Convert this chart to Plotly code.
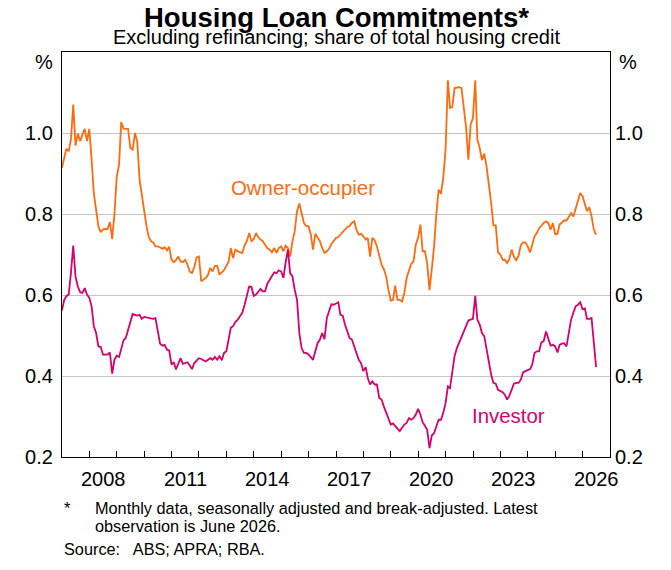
import pandas as pd
import plotly.graph_objects as go

# monthly observations, Dec 2006 .. Jun 2026 (share of total housing credit, %)
months = pd.period_range(end="2026-06", periods=235, freq="M").to_timestamp(how="end").normalize()

owner_occupier = [
    0.914, 0.938, 0.961, 0.955, 0.984, 1.07, 0.969, 0.998, 0.98, 0.996,
    1.01, 0.98, 1.01, 0.934, 0.852, 0.81, 0.77, 0.755, 0.762, 0.763,
    0.763, 0.78, 0.738, 0.80, 0.893, 0.922, 1.027, 1.011, 1.01, 1.01,
    0.963, 0.959, 1.0, 0.979, 0.885, 0.844, 0.81, 0.77, 0.745, 0.733,
    0.73, 0.72, 0.72, 0.718, 0.714, 0.718, 0.71, 0.719, 0.687, 0.681,
    0.686, 0.695, 0.683, 0.681, 0.687, 0.675, 0.658, 0.654, 0.669, 0.693,
    0.695, 0.634, 0.638, 0.642, 0.65, 0.667, 0.658, 0.672, 0.672, 0.65,
    0.656, 0.661, 0.672, 0.683, 0.716, 0.691, 0.712, 0.708, 0.705, 0.704,
    0.722, 0.733, 0.753, 0.733, 0.738, 0.753, 0.743, 0.737, 0.733, 0.724,
    0.716, 0.712, 0.705, 0.716, 0.704, 0.716, 0.72, 0.708, 0.722, 0.716,
    0.695, 0.733, 0.757, 0.807, 0.826, 0.802, 0.778, 0.77, 0.77, 0.749,
    0.712, 0.751, 0.741, 0.733, 0.716, 0.704, 0.708, 0.714, 0.726, 0.733,
    0.741, 0.743, 0.749, 0.753, 0.76, 0.768, 0.77, 0.778, 0.782, 0.761,
    0.749, 0.751, 0.745, 0.737, 0.741, 0.695, 0.741, 0.735, 0.72, 0.70,
    0.675, 0.664, 0.646, 0.613, 0.586, 0.588, 0.623, 0.588, 0.588, 0.584,
    0.605, 0.642, 0.658, 0.677, 0.683, 0.724, 0.741, 0.774, 0.708, 0.708,
    0.679, 0.612, 0.663, 0.72, 0.802, 0.86, 0.85, 0.889, 0.959, 1.13,
    1.062, 1.064, 1.111, 1.113, 1.113, 1.111, 1.058, 1.015, 0.934, 1.021,
    1.037, 1.13, 0.984, 0.963, 0.933, 0.949, 0.918, 0.877, 0.827, 0.772,
    0.772, 0.705, 0.70, 0.687, 0.687, 0.679, 0.689, 0.712, 0.694, 0.686,
    0.697, 0.723, 0.73, 0.73, 0.72, 0.705, 0.724, 0.745, 0.753, 0.765,
    0.771, 0.778, 0.782, 0.778, 0.761, 0.778, 0.75, 0.751, 0.774, 0.779,
    0.784, 0.784, 0.794, 0.802, 0.794, 0.812, 0.831, 0.852, 0.844, 0.827,
    0.807, 0.817, 0.794, 0.761, 0.749,
]

investor = [
    0.562, 0.588, 0.597, 0.601, 0.654, 0.722, 0.646, 0.621, 0.607, 0.605,
    0.617, 0.601, 0.593, 0.572, 0.523, 0.506, 0.473, 0.472, 0.453, 0.453,
    0.453, 0.458, 0.406, 0.44, 0.45, 0.447, 0.465, 0.488, 0.494, 0.514,
    0.529, 0.553, 0.551, 0.549, 0.551, 0.541, 0.546, 0.545, 0.543, 0.542,
    0.541, 0.543, 0.514, 0.48, 0.475, 0.477, 0.465, 0.463, 0.428, 0.434,
    0.416, 0.432, 0.444, 0.43, 0.432, 0.434, 0.426, 0.417, 0.432, 0.438,
    0.444, 0.442, 0.44, 0.436, 0.44, 0.444, 0.44, 0.447, 0.44, 0.449,
    0.439, 0.457, 0.461, 0.49, 0.519, 0.523, 0.533, 0.539, 0.546, 0.556,
    0.576, 0.601, 0.621, 0.62, 0.598, 0.601, 0.609, 0.615, 0.609, 0.609,
    0.628, 0.638, 0.65, 0.656, 0.654, 0.661, 0.658, 0.642, 0.679, 0.712,
    0.654, 0.646, 0.613, 0.588, 0.506, 0.469, 0.457, 0.457, 0.453, 0.447,
    0.44, 0.461, 0.481, 0.49, 0.506, 0.491, 0.543, 0.56, 0.577, 0.576,
    0.58, 0.582, 0.551, 0.549, 0.527, 0.51, 0.494, 0.49, 0.473, 0.457,
    0.44, 0.432, 0.412, 0.422, 0.395, 0.379, 0.387, 0.379, 0.379, 0.346,
    0.342, 0.325, 0.309, 0.292, 0.28, 0.283, 0.276, 0.27, 0.264, 0.272,
    0.28, 0.284, 0.296, 0.292, 0.296, 0.305, 0.319, 0.305, 0.286, 0.277,
    0.267, 0.222, 0.253, 0.259, 0.276, 0.292, 0.292, 0.309, 0.333, 0.374,
    0.37, 0.412, 0.449, 0.469, 0.483, 0.498, 0.51, 0.525, 0.537, 0.539,
    0.541, 0.598, 0.539, 0.527, 0.506, 0.498, 0.465, 0.432, 0.403, 0.383,
    0.381, 0.366, 0.362, 0.36, 0.354, 0.342, 0.351, 0.366, 0.381, 0.383,
    0.383, 0.391, 0.409, 0.412, 0.414, 0.417, 0.428, 0.457, 0.461, 0.461,
    0.483, 0.486, 0.51, 0.49, 0.475, 0.477, 0.473, 0.458, 0.477, 0.48,
    0.481, 0.473, 0.506, 0.539, 0.556, 0.572, 0.576, 0.582, 0.565, 0.567,
    0.541, 0.541, 0.543, 0.481, 0.422,
]

y_ticks = [0.2, 0.4, 0.6, 0.8, 1.0]
y_tick_text = ["0.2", "0.4", "0.6", "0.8", "1.0"]
year_ticks = list(range(2008, 2027))
year_labels = [2008, 2011, 2014, 2017, 2020, 2023, 2026]

ORANGE = "#FF6A0D"
PINK = "#D6006E"
FONT = "Liberation Sans, Arial, sans-serif"

fig = go.Figure()
fig.add_trace(go.Scatter(x=months, y=owner_occupier, mode="lines",
                         line=dict(color=ORANGE, width=1.8), name="Owner-occupier"))
fig.add_trace(go.Scatter(x=months, y=investor, mode="lines",
                         line=dict(color=PINK, width=1.8), name="Investor"))
# invisible copy so the right-hand axis is drawn
fig.add_trace(go.Scatter(x=months, y=investor, mode="lines", yaxis="y2",
                         line=dict(width=0), hoverinfo="skip", showlegend=False, opacity=0))

axis_font = dict(family=FONT, size=20, color="black")
note_font = dict(family=FONT, size=16.3, color="black")

fig.update_layout(
    width=671, height=570,
    margin=dict(l=54, r=69, t=44, b=121),
    plot_bgcolor="white", paper_bgcolor="white",
    showlegend=False,
    font=dict(family=FONT, color="black"),
    xaxis=dict(
        type="date", range=["2007-01-01", "2027-01-01"],
        tickvals=[f"{y}-01-01" for y in year_ticks],
        ticks="inside", ticklen=6, tickcolor="black", tickwidth=1,
        showticklabels=False, showgrid=False, zeroline=False,
        showline=True, linecolor="black", linewidth=1.2, mirror=True,
    ),
    yaxis=dict(
        range=[0.2, 1.2], tickvals=y_ticks, ticktext=y_tick_text,
        showgrid=True, gridcolor="#c6c6c6", gridwidth=1, zeroline=False,
        showline=True, linecolor="black", linewidth=1.2, mirror=True,
        ticks="", tickfont=axis_font, ticklabelstandoff=4,
    ),
    yaxis2=dict(
        range=[0.2, 1.2], tickvals=y_ticks, ticktext=y_tick_text,
        overlaying="y", side="right", showgrid=False, zeroline=False,
        ticks="", tickfont=axis_font, ticklabelstandoff=4,
    ),
)

annotations = []
for yr in year_labels:
    annotations.append(dict(x=f"{yr}-07-01", xref="x", y=-0.022, yref="paper",
                            text=str(yr), showarrow=False, yanchor="top",
                            font=axis_font))
annotations += [
    dict(x=-0.013, y=0.975, xref="paper", yref="paper", text="%", showarrow=False,
         xanchor="right", yanchor="middle", font=axis_font),
    dict(x=1.013, y=0.975, xref="paper", yref="paper", text="%", showarrow=False,
         xanchor="left", yanchor="middle", font=axis_font),
    dict(x=0.5, y=1.084, xref="paper", yref="paper", text="<b>Housing Loan Commitments*</b>",
         showarrow=False, yanchor="middle", font=dict(family=FONT, size=27.5, color="black")),
    dict(x=0.5, y=1.037, xref="paper", yref="paper",
         text="Excluding refinancing; share of total housing credit",
         showarrow=False, yanchor="middle", font=dict(family=FONT, size=20, color="black")),
    dict(x="2015-10-15", y=0.865, xref="x", yref="y", text="Owner-occupier",
         showarrow=False, font=dict(family=FONT, size=20.4, color=ORANGE)),
    dict(x="2023-04-25", y=0.302, xref="x", yref="y", text="Investor",
         showarrow=False, font=dict(family=FONT, size=20.4, color=PINK)),
    dict(x=0.0, y=-0.126, xref="paper", yref="paper", text="*", showarrow=False,
         xanchor="left", yanchor="middle", font=note_font),
    dict(x=0.0566, y=-0.126, xref="paper", yref="paper",
         text="Monthly data, seasonally adjusted and break-adjusted. Latest",
         showarrow=False, xanchor="left", yanchor="middle", font=note_font),
    dict(x=0.0566, y=-0.170, xref="paper", yref="paper", text="observation is June 2026.",
         showarrow=False, xanchor="left", yanchor="middle", font=note_font),
    dict(x=0.0, y=-0.227, xref="paper", yref="paper", text="Source:   ABS; APRA; RBA.",
         showarrow=False, xanchor="left", yanchor="middle", font=note_font),
]
fig.update_layout(annotations=annotations)

fig.write_html("out.html")
